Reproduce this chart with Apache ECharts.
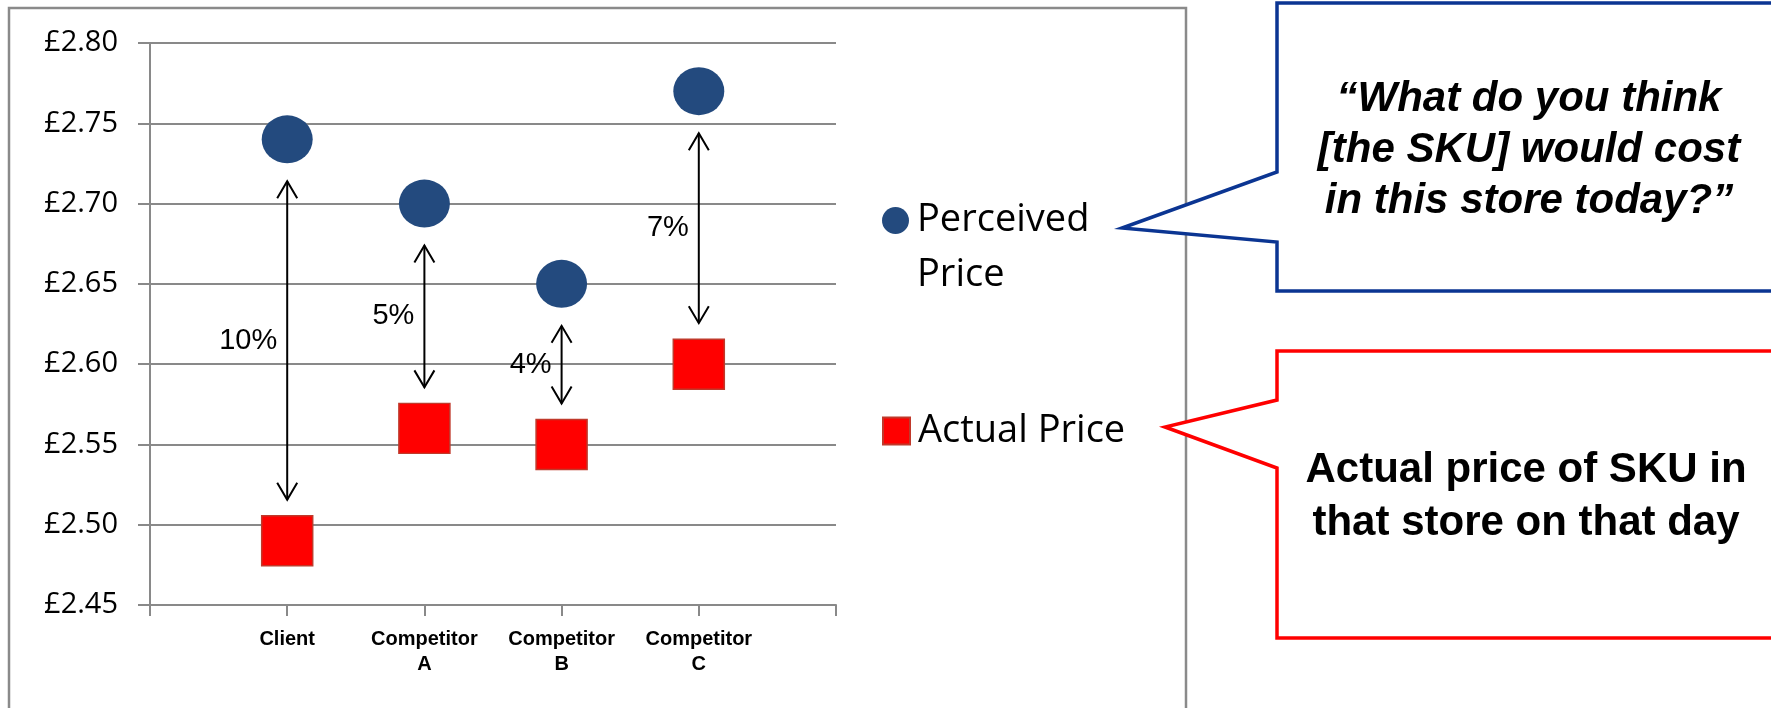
<!DOCTYPE html>
<html>
<head>
<meta charset="utf-8">
<script src="https://cdn.jsdelivr.net/npm/echarts@6/dist/echarts.min.js"></script>
<style>
  html, body { margin: 0; padding: 0; background: #fff; }
  #chart { width: 1771px; height: 708px; }
</style>
</head>
<body>
<div id="chart"></div>
<script>
// chart data
const categories = ['Client', 'Competitor\nA', 'Competitor\nB', 'Competitor\nC']
const perceivedPrice = [2.74, 2.70, 2.65, 2.77]
const actualPrice = [2.49, 2.56, 2.55, 2.60]
const gapLabels = ['10%', '5%', '4%', '7%']

const gridColor = '#898989'
const blue = '#234a7e'
const red = '#ff0000'

const xPos = categories.map((c, i) => i + 1)
const perceivedData = xPos.map((x, i) => [x, perceivedPrice[i]])
const actualData = xPos.map((x, i) => [x, actualPrice[i]])
const arrowData = xPos.map((x, i) => [x, perceivedPrice[i], actualPrice[i]])

// double headed arrow between the two markers of one store
function renderArrow(params, api) {
  const x = api.value(0)
  const top = api.coord([x, api.value(1)])
  const bot = api.coord([x, api.value(2)])
  const cx = top[0]
  const y1 = top[1] + 42
  const y2 = bot[1] - 41
  const hw = 10
  const hh = 17
  const lineStyle = { stroke: '#000', fill: null, lineWidth: 2 }
  return {
    type: 'group',
    children: [
      { type: 'line', shape: { x1: cx, y1: y1, x2: cx, y2: y2 }, style: lineStyle },
      { type: 'polyline', shape: { points: [[cx - hw, y1 + hh], [cx, y1], [cx + hw, y1 + hh]] }, style: lineStyle },
      { type: 'polyline', shape: { points: [[cx - hw, y2 - hh], [cx, y2], [cx + hw, y2 - hh]] }, style: lineStyle },
      {
        type: 'text',
        x: cx - 10,
        y: (y1 + y2) / 2,
        style: {
          text: gapLabels[params.dataIndex],
          font: '29px "Liberation Sans", Arial, sans-serif',
          fill: '#000',
          align: 'right',
          verticalAlign: 'middle'
        }
      }
    ]
  }
}

const chart = echarts.init(document.getElementById('chart'))
chart.setOption({
  backgroundColor: '#fff',
  animation: false,
  grid: { left: 150, top: 43, right: 935, bottom: 103 },
  xAxis: {
    type: 'value',
    min: 0,
    max: 5,
    interval: 1,
    axisLine: { show: true, lineStyle: { color: gridColor, width: 2 } },
    axisTick: { show: true, length: 11, lineStyle: { color: gridColor, width: 2 } },
    splitLine: { show: false },
    axisLabel: {
      margin: 22,
      color: '#000',
      fontFamily: '"Liberation Sans Narrow", "Liberation Sans", Arial, sans-serif',
      fontWeight: 'bold',
      fontSize: 20,
      lineHeight: 25,
      align: 'center',
      formatter: v => categories[v - 1] || ''
    }
  },
  yAxis: {
    type: 'value',
    min: 2.45,
    max: 2.80,
    interval: 0.05,
    axisLine: { show: true, lineStyle: { color: gridColor, width: 2 } },
    axisTick: { show: true, length: 12, lineStyle: { color: gridColor, width: 2 } },
    splitLine: { show: true, lineStyle: { color: gridColor, width: 2 } },
    axisLabel: {
      margin: 32,
      color: '#000',
      fontFamily: '"Open Sans", sans-serif',
      fontSize: 29,
      formatter: v => '£' + v.toFixed(2)
    }
  },
  legend: [
    {
      data: [{ name: 'Perceived Price', icon: 'circle' }],
      left: 882,
      top: 138,
      padding: 0,
      itemWidth: 27,
      itemHeight: 27,
      // blank first line keeps "Perceived" level with the dot
      formatter: () => ' \nPerceived\nPrice',
      textStyle: {
        color: '#000',
        fontFamily: '"Open Sans", sans-serif',
        fontSize: 38,
        lineHeight: 55,
        padding: [0, 0, 0, 3]
      }
    },
    {
      data: [{ name: 'Actual Price', icon: 'rect' }],
      left: 882,
      top: 412,
      padding: 0,
      itemWidth: 27,
      itemHeight: 27,
      textStyle: {
        color: '#000',
        fontFamily: '"Open Sans", sans-serif',
        fontSize: 38,
        padding: [0, 0, 0, 3]
      }
    }
  ],
  graphic: [
    {
      type: 'rect',
      shape: { x: 9, y: 8, width: 1177, height: 720 },
      style: { fill: null, stroke: '#8a8a8a', lineWidth: 2.5 },
      silent: true
    },
    {
      type: 'polygon',
      shape: { points: [[1277, 3], [1780, 3], [1780, 291], [1277, 291], [1277, 242], [1122, 228], [1277, 172]] },
      style: { fill: '#fff', stroke: '#0b3592', lineWidth: 3.5 },
      silent: true
    },
    {
      type: 'text',
      x: 1529,
      y: 150,
      style: {
        text: '“What do you think\n[the SKU] would cost\nin this store today?”',
        font: 'italic bold 42px "Liberation Sans", Arial, sans-serif',
        lineHeight: 51,
        fill: '#000',
        align: 'center',
        verticalAlign: 'middle'
      },
      silent: true
    },
    {
      type: 'polygon',
      shape: { points: [[1277, 351], [1780, 351], [1780, 638], [1277, 638], [1277, 468], [1165, 427], [1277, 400]] },
      style: { fill: '#fff', stroke: red, lineWidth: 3.5 },
      silent: true
    },
    {
      type: 'text',
      x: 1526,
      y: 497,
      style: {
        text: 'Actual price of SKU in\nthat store on that day',
        font: 'bold 42px "Liberation Sans", Arial, sans-serif',
        lineHeight: 53,
        fill: '#000',
        align: 'center',
        verticalAlign: 'middle'
      },
      silent: true
    }
  ],
  series: [
    {
      name: 'Perceived Price',
      type: 'scatter',
      symbol: 'circle',
      symbolSize: [51, 48],
      itemStyle: { color: blue, opacity: 1 },
      data: perceivedData,
      z: 3
    },
    {
      name: 'Actual Price',
      type: 'scatter',
      symbol: 'rect',
      symbolSize: [51, 50],
      itemStyle: { color: red, borderColor: '#c0392b', borderWidth: 1.5, opacity: 1 },
      data: actualData,
      z: 3
    },
    {
      name: 'gap',
      type: 'custom',
      renderItem: renderArrow,
      data: arrowData,
      silent: true,
      z: 2
    }
  ]
})
</script>
</body>
</html>
